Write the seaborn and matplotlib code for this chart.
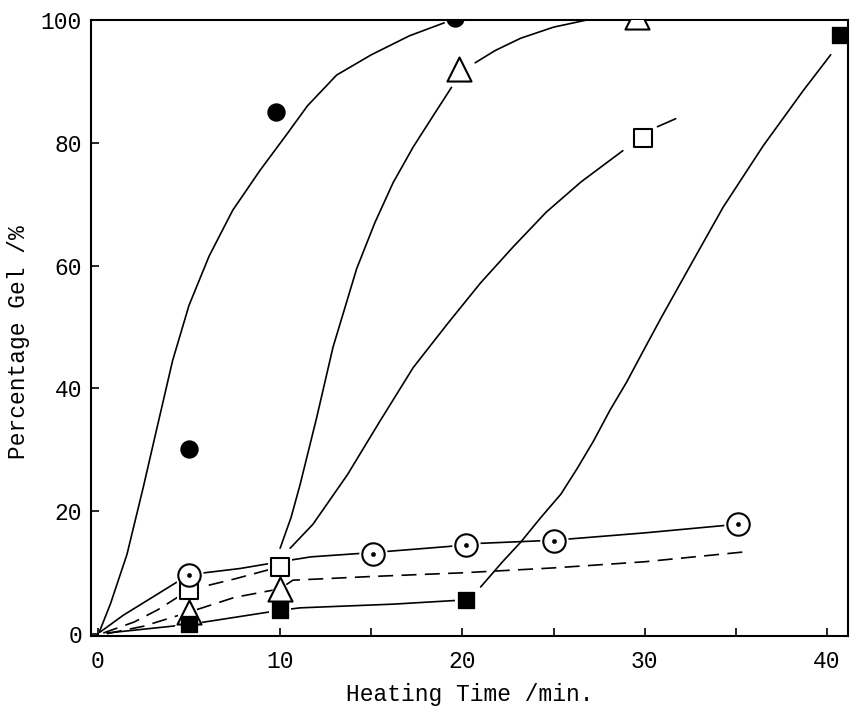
import numpy as np
import pandas as pd
import matplotlib
matplotlib.use("Agg")
import matplotlib.pyplot as plt
import seaborn as sns

# measured points (heating time in min, percentage gel)
time_fcircle = [5, 9.8, 19.6]
gel_fcircle = [30.2, 85, 100.3]
time_tri = [5, 10, 19.8, 29.6]
gel_tri = [3.6, 7.4, 92, 100.5]
time_osq = [5, 10, 29.9]
gel_osq = [7.2, 11, 80.7]
time_fsq = [5, 10, 20.2, 40.7]
gel_fsq = [1.6, 3.9, 5.6, 97.5]
time_dot = [5, 15.1, 20.2, 25, 35.1]
gel_dot = [9.7, 13.1, 14.6, 15.2, 17.9]

# hand drawn curves
fc_curve_t = [0.1, 0.7, 1.6, 2.5, 3.2, 4.1, 5.0, 6.1, 7.4, 8.9, 10.4, 11.5, 13.1, 15.0, 17.1, 19.0]
fc_curve_g = [0.5, 5, 13, 24, 33, 44.5, 53.5, 61.5, 69, 75.5, 81.5, 86, 91, 94.3, 97.4, 99.5]
tri_rise_t = [10.0, 10.6, 11.1, 12.0, 12.9, 14.2, 15.2, 16.2, 17.3, 18.4, 19.4]
tri_rise_g = [14, 19, 24.4, 35.2, 46.7, 59.5, 67, 73.5, 79.3, 84.4, 89]
tri_top_t = [20.7, 21.8, 23.2, 25.0, 27.2]
tri_top_g = [93, 95, 97, 98.8, 100.2]
osq_rise_t = [10.55, 11.8, 13.7, 15.5, 17.3, 19.2, 21.0, 22.8, 24.6, 26.5, 28.8]
osq_rise_g = [14, 17.9, 26, 34.8, 43.4, 50.6, 57.2, 63.1, 68.7, 73.6, 78.7]
osq_top_t = [30.7, 31.7]
osq_top_g = [82.6, 83.9]
fsq_rise_t = [21.0, 22.2, 23.2, 24.3, 25.4, 26.3, 27.2, 28.1, 29.0, 29.9, 30.9, 32.5, 34.3, 36.5, 38.7, 40.2]
fsq_rise_g = [7.7, 11.8, 15, 19, 22.8, 27, 31.5, 36.5, 41, 46, 51.5, 60, 69.5, 79.5, 88.5, 94.3]
dot_line_t = [0.1, 1.4, 3.2, 5, 7.8, 10.0, 11.7, 15.1, 19.3, 20.2, 25, 30, 35.1]
dot_line_g = [0.3, 3.1, 6.4, 9.7, 10.7, 11.8, 12.6, 13.3, 14.3, 14.7, 15.3, 16.5, 17.9]
fsq_low_t = [0.5, 5, 10, 11.1, 16.2, 20.2]
fsq_low_g = [0.2, 1.6, 3.9, 4.3, 4.9, 5.6]
osq_low_t = [0.3, 2.0, 3.3, 5, 7.5, 10]
osq_low_g = [0.2, 2.0, 4.0, 7.2, 9.0, 11]
tri_low_t = [0.5, 2.5, 5, 7.5, 10, 10.7, 15, 20, 25, 30, 35.8]
tri_low_g = [0.1, 1.3, 3.6, 6.0, 7.4, 8.8, 9.4, 10.0, 10.8, 11.8, 13.5]

sns.set_theme(style="white")
plt.rcParams["font.family"] = ["Liberation Mono", "DejaVu Sans Mono"]
plt.rcParams["axes.linewidth"] = 1.5
plt.rcParams["text.color"] = "black"
plt.rcParams["axes.labelcolor"] = "black"


def curve_frame(segments):
    rows = []
    for i, (ts, gs) in enumerate(segments):
        for t, g in zip(ts, gs):
            rows.append({"seg": i, "t": t, "gel": g})
    return pd.DataFrame(rows)


solid = curve_frame([(fc_curve_t, fc_curve_g), (tri_rise_t, tri_rise_g), (tri_top_t, tri_top_g),
                     (osq_rise_t, osq_rise_g), (osq_top_t, osq_top_g), (fsq_rise_t, fsq_rise_g),
                     (dot_line_t, dot_line_g), (fsq_low_t, fsq_low_g)])
dashed = curve_frame([(osq_low_t, osq_low_g), (tri_low_t, tri_low_g)])

fig = plt.figure(figsize=(8.51, 7.06), dpi=100)
ax = fig.add_axes([0.107, 0.099, 0.8895, 0.873])

sns.lineplot(data=solid, x="t", y="gel", units="seg", estimator=None, sort=False,
             color="black", linewidth=1.2, ax=ax, zorder=2)
sns.lineplot(data=dashed, x="t", y="gel", units="seg", estimator=None, sort=False,
             color="black", linewidth=1.2, linestyle=(0, (9, 5)), ax=ax, zorder=2)

# white halos so the lines stop short of the symbols
halo = dict(color="white", linewidth=0, zorder=2.5, ax=ax, legend=False)
sns.scatterplot(x=time_fcircle, y=gel_fcircle, marker="o", s=260, **halo)
sns.scatterplot(x=time_tri, y=gel_tri, marker="^", s=480, **halo)
sns.scatterplot(x=time_osq, y=gel_osq, marker="s", s=300, **halo)
sns.scatterplot(x=time_fsq, y=gel_fsq, marker="s", s=270, **halo)
sns.scatterplot(x=time_dot, y=gel_dot, marker="o", s=420, **halo)

sns.scatterplot(x=time_fcircle, y=gel_fcircle, marker="o", s=150, color="black",
                edgecolor="black", zorder=3, ax=ax)
sns.scatterplot(x=time_tri, y=gel_tri, marker="^", s=300, color="white",
                edgecolor="black", linewidth=1.5, zorder=3, ax=ax)
sns.scatterplot(x=time_osq, y=gel_osq, marker="s", s=160, color="white",
                edgecolor="black", linewidth=1.5, zorder=3, ax=ax)
sns.scatterplot(x=time_fsq, y=gel_fsq, marker="s", s=140, color="black",
                edgecolor="black", zorder=3, ax=ax)
sns.scatterplot(x=time_dot, y=gel_dot, marker="o", s=260, color="white",
                edgecolor="black", linewidth=1.5, zorder=3, ax=ax)
sns.scatterplot(x=time_dot, y=gel_dot, marker="o", s=10, color="black",
                edgecolor="black", zorder=4, ax=ax)

ax.set_xlim(-0.37, 41.15)
ax.set_ylim(-0.3, 100)
ax.set_xticks([0, 10, 20, 30, 40])
ax.set_xticks([5, 15, 25, 35], minor=True)
ax.set_yticks([0, 20, 40, 60, 80, 100])
ax.tick_params(axis="both", which="both", direction="in", length=6, width=1.2,
               labelsize=16.5, colors="black")
ax.tick_params(axis="x", which="both", bottom=True, top=False, pad=10)
ax.tick_params(axis="y", which="both", left=True, right=False, pad=6.5)
ax.tick_params(axis="x", which="minor", labelbottom=False)
for side in ax.spines.values():
    side.set_color("black")
    side.set_linewidth(1.5)

ax.set_xlabel("Heating Time /min.", fontsize=16.5, labelpad=7, color="black")
ax.set_ylabel("Percentage Gel /%", fontsize=16.5, color="black")
ax.yaxis.set_label_coords(-0.08, 0.477)

plt.savefig("out.png", dpi=100)
plt.close()
